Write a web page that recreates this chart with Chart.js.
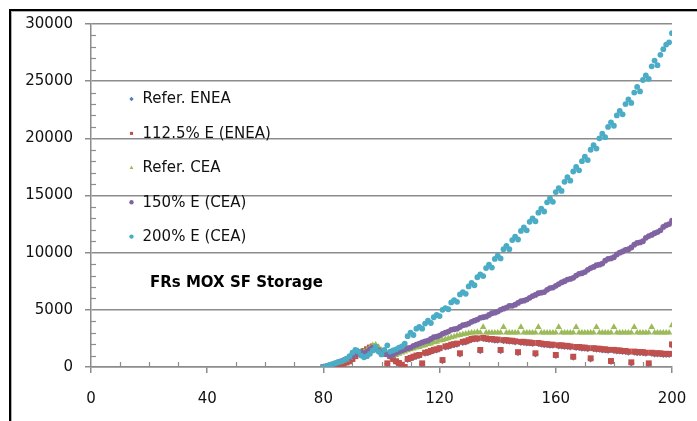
<!DOCTYPE html>
<html>
<head>
<meta charset="utf-8">
<script src="https://cdn.jsdelivr.net/npm/chart.js@4.4.1/dist/chart.umd.min.js"></script>
<style>
html,body{margin:0;padding:0;background:#fff;overflow:hidden;}
#wrap{width:697px;height:421px;position:relative;}
canvas{display:block;}
</style>
</head>
<body>
<div id="wrap"><canvas id="c" width="697" height="421"></canvas></div>
<script>
// ---- data ----
const years = [];
for (let y = 80; y <= 200; y++) years.push(y);

const seriesNames = ["Refer. ENEA", "112.5% E (ENEA)", "Refer. CEA", "150% E (CEA)", "200% E (CEA)"];
const chartTitle = "FRs MOX SF Storage";
const xTicks = [0, 40, 80, 120, 160, 200];
const yTicks = [0, 5000, 10000, 15000, 20000, 25000, 30000];

const referENEA = [
  0, 30, 80, 130, 200, 280, 350, 430, 520, 650,
  850, 1100, 1300, 1350, 1300, 1450, 1650, 1800, 1800, 1550,
  1300, 1150, 280, 900, 650, 450, 300, 150, 0, 620,
  720, 820, 920, 970, 250, 1170, 1220, 1320, 1420, 1470,
  1570, 530, 1720, 1770, 1870, 1920, 1970, 1120, 2120, 2170,
  2270, 2370, 2420, 2420, 1400, 2460, 2420, 2370, 2370, 2320,
  2320, 1400, 2270, 2270, 2220, 2220, 2170, 1220, 2120, 2120,
  2070, 2070, 2020, 1120, 2020, 1970, 1920, 1920, 1870, 1870,
  970, 1820, 1820, 1770, 1770, 1720, 820, 1670, 1670, 1620,
  1620, 1570, 680, 1570, 1520, 1520, 1470, 1470, 1420, 450,
  1420, 1370, 1370, 1320, 1320, 1270, 330, 1270, 1220, 1220,
  1220, 1170, 240, 1170, 1120, 1120, 1120, 1070, 1070, 1070,
  1900
];
const e1125ENEA = [
  0, 20, 50, 80, 120, 160, 220, 300, 400, 500,
  700, 950, 1150, 1300, 1400, 1550, 1700, 1800, 1750, 1500,
  1300, 1150, 320, 950, 700, 500, 350, 200, 0, 700,
  800, 900, 1000, 1050, 320, 1250, 1300, 1400, 1500, 1550,
  1650, 610, 1800, 1850, 1950, 2000, 2050, 1200, 2200, 2250,
  2350, 2450, 2500, 2500, 1490, 2550, 2500, 2450, 2450, 2400,
  2400, 1490, 2350, 2350, 2300, 2300, 2250, 1300, 2200, 2200,
  2150, 2150, 2100, 1200, 2100, 2050, 2000, 2000, 1950, 1950,
  1050, 1900, 1900, 1850, 1850, 1800, 900, 1750, 1750, 1700,
  1700, 1650, 760, 1650, 1600, 1600, 1550, 1550, 1500, 525,
  1500, 1450, 1450, 1400, 1400, 1350, 410, 1350, 1300, 1300,
  1300, 1250, 320, 1250, 1200, 1200, 1200, 1150, 1150, 1150,
  1980
];
const referCEA = [
  0, 50, 100, 180, 260, 350, 450, 550, 650, 800,
  1000, 1200, 1400, 1350, 1350, 1500, 1700, 1900, 1950, 1750,
  1450, 1250, 1150, 1050, 1000, 1050, 1150, 1250, 1350, 1450,
  1550, 1600, 1700, 1750, 1850, 1900, 2000, 2050, 2150, 2200,
  2300, 2350, 2450, 2500, 2600, 2650, 2750, 2800, 2850, 2900,
  2950, 3000, 3000, 3050, 3000, 3500, 3000, 3000, 3000, 3000,
  3000, 3000, 3500, 3000, 3000, 3000, 3000, 3000, 3500, 3000,
  3000, 3000, 3000, 3000, 3500, 3000, 3000, 3000, 3000, 3000,
  3000, 3500, 3000, 3000, 3000, 3000, 3000, 3500, 3000, 3000,
  3000, 3000, 3000, 3000, 3500, 3000, 3000, 3000, 3000, 3000,
  3500, 3000, 3000, 3000, 3000, 3000, 3000, 3500, 3000, 3000,
  3000, 3000, 3000, 3500, 3000, 3000, 3000, 3000, 3000, 3000,
  3650
];
const e150CEA = [
  0, 60, 130, 200, 300, 400, 500, 600, 700, 850,
  1000, 1150, 1350, 1300, 1200, 1350, 1550, 1700, 1600, 1450,
  1300, 1200, 1100, 1000, 1100, 1250, 1350, 1450, 1550, 1650,
  1700, 1850, 1950, 2050, 2150, 2250, 2300, 2450, 2600, 2650,
  2750, 2900, 3000, 3100, 3250, 3300, 3350, 3500, 3650, 3700,
  3800, 3950, 4050, 4150, 4300, 4350, 4400, 4550, 4700, 4750,
  4850, 5000, 5100, 5200, 5350, 5350, 5450, 5600, 5750, 5800,
  5900, 6050, 6200, 6300, 6450, 6500, 6550, 6750, 6900, 6950,
  7100, 7250, 7400, 7500, 7650, 7700, 7800, 8000, 8150, 8200,
  8300, 8500, 8650, 8750, 8900, 8950, 9050, 9300, 9450, 9500,
  9600, 9850, 10000, 10100, 10250, 10300, 10450, 10700, 10850, 10900,
  11000, 11300, 11450, 11550, 11700, 11800, 11950, 12250, 12400, 12500,
  12800
];
const e200CEA = [
  0, 80, 170, 260, 330, 420, 480, 580, 720, 950,
  1250, 1500, 1350, 1000, 850, 950, 1150, 1450, 1750, 1350,
  1100, 1500, 1900, 1350, 1450, 1550, 1700, 1800, 2050, 2700,
  3000, 2800, 3350, 3500, 3350, 3800, 4050, 3850, 4350, 4550,
  4450, 5000, 5150, 5050, 5650, 5850, 5700, 6350, 6550, 6400,
  7050, 7350, 7150, 7850, 8100, 7950, 8650, 8950, 8700, 9450,
  9750, 9500, 10300, 10600, 10300, 11100, 11400, 11150, 11900, 12200,
  11950, 12700, 13000, 12750, 13500, 13850, 13600, 14400, 14750, 14450,
  15300, 15650, 15400, 16200, 16600, 16300, 17100, 17500, 17200, 18000,
  18400, 18100, 19000, 19400, 19100, 20000, 20400, 20100, 21000, 21400,
  21100, 22000, 22400, 22100, 23000, 23400, 23100, 24000, 24500, 24100,
  25100, 25500, 25200, 26300, 26800, 26400, 27300, 27800, 28200, 28400,
  29200
];

// ---- styles ----
const colors = ["#4F81BD", "#C0504D", "#9BBB59", "#8064A2", "#4BACC6"];
const pStyles = ["rectRot", "rect", "triangle", "circle", "circle"];
const pRadius = [3.2, 4.2, 3.8, 2.9, 2.9];
const FONT = "'DejaVu Sans', sans-serif";

const allSeries = [referENEA, e1125ENEA, referCEA, e150CEA, e200CEA];
const datasets = allSeries.map((vals, i) => ({
  label: seriesNames[i],
  data: years.map((yr, k) => ({x: yr, y: vals[k]})),
  backgroundColor: colors[i],
  borderColor: colors[i],
  borderWidth: 0,
  pointStyle: pStyles[i],
  pointRadius: pRadius[i],
  showLine: false,
  order: 4 - i
}));

const extras = {
  id: 'extras',
  afterDraw(chart) {
    const ctx = chart.ctx;
    const xs = chart.scales.x, ys = chart.scales.y;
    ctx.save();
    // minor ticks
    ctx.strokeStyle = '#8c8c8c';
    ctx.lineWidth = 1.2;
    const axX = xs.getPixelForValue(0), axY = ys.getPixelForValue(0);
    for (let v = 1000; v < 30000; v += 1000) {
      if (v % 5000 === 0) continue;
      const p = Math.round(ys.getPixelForValue(v)) + 0.5;
      ctx.beginPath(); ctx.moveTo(axX, p); ctx.lineTo(axX + 5, p); ctx.stroke();
    }
    for (let v = 10; v < 200; v += 10) {
      if (v % 40 === 0) continue;
      const p = Math.round(xs.getPixelForValue(v)) + 0.5;
      ctx.beginPath(); ctx.moveTo(p, axY); ctx.lineTo(p, axY - 5); ctx.stroke();
    }
    // legend
    const legY0 = 99, legStep = 34.4, legMX = 131.5, legTX = 142.5;
    ctx.font = "15px " + FONT;
    ctx.textBaseline = 'middle';
    ctx.textAlign = 'left';
    chart.data.datasets.forEach((ds, i) => {
      const yy = legY0 + i * legStep;
      ctx.fillStyle = ds.backgroundColor;
      ctx.strokeStyle = ds.backgroundColor;
      Chart.helpers.drawPoint(ctx, {pointStyle: ds.pointStyle, radius: 2.2, borderWidth: 0, rotation: 0}, legMX, yy);
      ctx.fillStyle = '#111';
      ctx.fillText(ds.label, legTX, yy + 0.5);
    });
    // title
    ctx.font = "bold 15px " + FONT;
    ctx.fillStyle = '#000';
    ctx.fillText(chartTitle, 150, 283);
    // frame
    ctx.fillStyle = '#000';
    ctx.fillRect(9, 9, 688, 2);
    ctx.fillRect(9, 9, 2, 412);
    ctx.fillStyle = '#b0b0b0';
    ctx.fillRect(11, 11, 686, 1);
    ctx.fillRect(11, 11, 1, 410);
    ctx.restore();
  }
};

new Chart(document.getElementById('c'), {
  type: 'scatter',
  data: {datasets},
  options: {
    responsive: false,
    devicePixelRatio: 1,
    animation: false,
    layout: {padding: {top: 24, right: 25, bottom: 0, left: 0}},
    plugins: {legend: {display: false}, tooltip: {enabled: false}},
    scales: {
      x: {
        type: 'linear', min: 0, max: 200,
        afterFit(s) { s.height = 54; },
        afterBuildTicks(s) { s.ticks = xTicks.map(v => ({value: v})); },
        border: {display: true, color: '#8c8c8c', width: 1.5},
        grid: {display: true, drawOnChartArea: false, drawTicks: true, tickLength: 6, color: '#8c8c8c', lineWidth: 1.5},
        ticks: {font: {family: FONT, size: 15, lineHeight: 2.1}, color: '#111', padding: 10, maxRotation: 0,
                callback: v => String(v)}
      },
      y: {
        type: 'linear', min: 0, max: 30000,
        afterFit(s) { s.width = 91; },
        afterBuildTicks(s) { s.ticks = yTicks.map(v => ({value: v})); },
        border: {display: true, color: '#8c8c8c', width: 1.5},
        grid: {display: true, drawOnChartArea: true, drawTicks: true, tickLength: 6, color: '#8c8c8c', lineWidth: 1.5},
        ticks: {font: {family: FONT, size: 15}, color: '#111', padding: 12, callback: v => String(v)}
      }
    }
  },
  plugins: [extras]
});
</script>
</body>
</html>
